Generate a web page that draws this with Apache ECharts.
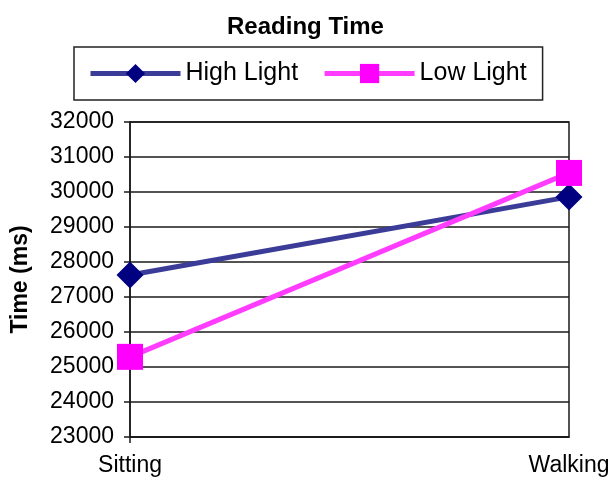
<!DOCTYPE html>
<html>
<head>
<meta charset="utf-8">
<script src="https://cdn.jsdelivr.net/npm/echarts@6/dist/echarts.min.js"></script>
<style>
  html, body { margin: 0; padding: 0; background: #fff; }
  #chart { width: 611px; height: 480px; }
</style>
</head>
<body>
<div id="chart"></div>
<script>
// Reading time by posture under two lighting conditions
const categories = ['Sitting', 'Walking'];
const highLight = [27630, 29860];
const lowLight = [25290, 30545];
const yTicks = { min: 23000, max: 32000, step: 1000 };

const FONT = '"Liberation Sans", Arial, Helvetica, sans-serif';

const chart = echarts.init(document.getElementById('chart'), null, { renderer: 'canvas' });

chart.setOption({
  backgroundColor: '#ffffff',
  animation: false,
  title: {
    text: 'Reading Time',
    left: 'center',
    top: 10,
    textStyle: { fontFamily: FONT, fontWeight: 'bold', fontSize: 24, color: '#000' }
  },
  legend: {
    left: 74,
    top: 47,
    orient: 'horizontal',
    padding: [14, 16, 14, 14],
    itemGap: 24,
    itemWidth: 90,
    itemHeight: 24,
    borderColor: '#222',
    borderWidth: 1.5,
    lineStyle: { width: 5 },
    textStyle: { fontFamily: FONT, fontSize: 25, color: '#000' },
    data: ['High Light', 'Low Light']
  },
  grid: {
    left: 130,
    right: 42,
    top: 122,
    bottom: 43,
    outerBoundsMode: 'none',
    containLabel: false,
    show: true,
    borderColor: '#1a1a1a',
    borderWidth: 1.5,
    backgroundColor: '#fff'
  },
  xAxis: {
    type: 'category',
    data: categories,
    boundaryGap: false,
    axisLine: { lineStyle: { color: '#1a1a1a', width: 1.5 } },
    axisTick: { show: true, length: 6, interval: function (i) { return i === 0; }, lineStyle: { color: '#1a1a1a', width: 1.5 } },
    axisLabel: { fontFamily: FONT, fontSize: 23, color: '#000', margin: 17 },
    splitLine: { show: false }
  },
  yAxis: {
    type: 'value',
    min: yTicks.min,
    max: yTicks.max,
    interval: yTicks.step,
    name: 'Time (ms)',
    nameLocation: 'middle',
    nameGap: 98,
    nameTextStyle: { fontFamily: FONT, fontWeight: 'bold', fontSize: 23, color: '#000' },
    axisLine: { show: true, lineStyle: { color: '#1a1a1a', width: 1.5 } },
    axisTick: { show: true, length: 6, lineStyle: { color: '#1a1a1a', width: 1.5 } },
    axisLabel: {
      fontFamily: FONT, fontSize: 23, color: '#000', margin: 16,
      formatter: function (v) { return String(v); }
    },
    splitLine: { show: true, lineStyle: { color: '#1a1a1a', width: 1.5 } }
  },
  series: [
    {
      name: 'High Light',
      type: 'line',
      data: highLight,
      symbol: 'diamond',
      symbolSize: 27,
      lineStyle: { color: '#3b3b98', width: 5 },
      itemStyle: { color: '#000080' },
      z: 3
    },
    {
      name: 'Low Light',
      type: 'line',
      data: lowLight,
      symbol: 'rect',
      symbolSize: 26,
      lineStyle: { color: '#ff3cff', width: 5 },
      itemStyle: { color: '#ff00ff' },
      z: 4
    }
  ]
});
</script>
</body>
</html>
